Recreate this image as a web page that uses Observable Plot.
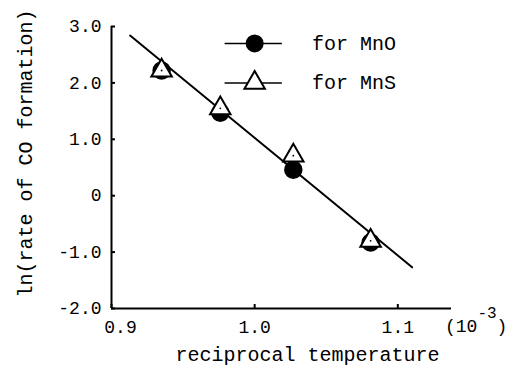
<!DOCTYPE html>
<html>
<head>
<meta charset="utf-8">
<script src="https://cdn.jsdelivr.net/npm/d3@7"></script>
<script src="https://cdn.jsdelivr.net/npm/@observablehq/plot@0.6"></script>
<style>
  html, body { margin: 0; padding: 0; background: white; }
  #chart { width: 510px; height: 372px; }
</style>
</head>
<body>
<div id="chart"></div>
<script>
// ---- data ----
const xTicks = [0.9, 1.0, 1.1];
const xTickLabels = ["0.9", "1.0", "1.1"];
const yTicks = [3, 2, 1, 0, -1, -2];
const yTickLabels = ["3.0", "2.0", "1.0", "0", "-1.0", "-2.0"];
const recipTemp = [0.935, 0.976, 1.027, 1.081];
const lnRateMnO = [2.22, 1.47, 0.46, -0.83];
const lnRateMnS = [2.22, 1.55, 0.71, -0.80];
const fitX = [0.913, 1.110];
const fitY = [2.84, -1.27];
const seriesLabels = ["for MnO", "for MnS"];
const yTitle = "ln(rate of CO formation)";
const xTitle = "reciprocal temperature";

// ---- layout ----
const W = 510, H = 372;
const mL = 111, mR = 59, mT = 26, mB = 64;
const xDomain = [0.9, 1.1375];
const yDomain = [-2, 3];
const legendRowY = [2.7, 2.0];
const legendLineX = [0.979, 1.019];
const legendMarkX = 1.0;
const legendTextX = 1.04;
const FONT = "'Liberation Mono', 'Courier New', monospace";

const mno = recipTemp.map((x, i) => ({x, y: lnRateMnO[i]}));
const mns = recipTemp.map((x, i) => ({x, y: lnRateMnS[i]}));
const fit = fitX.map((x, i) => ({x, y: fitY[i]}));
const xt = xTicks.map((v, i) => ({v, label: xTickLabels[i]}));
const yt = yTicks.map((v, i) => ({v, label: yTickLabels[i]}));
const legend = seriesLabels.map((label, i) => ({label, y: legendRowY[i]}));

const plotW = W - mL - mR, plotH = H - mT - mB;

const chart = Plot.plot({
  width: W, height: H,
  marginLeft: mL, marginRight: mR, marginTop: mT, marginBottom: mB,
  x: {domain: xDomain, axis: null},
  y: {domain: yDomain, axis: null},
  style: {fontFamily: FONT, fontSize: "18px", background: "white", color: "black"},
  marks: [
    // axes lines
    Plot.ruleX([xDomain[0]], {y1: yDomain[0], y2: yDomain[1], stroke: "black", strokeWidth: 2}),
    Plot.ruleY([yDomain[0]], {x1: xDomain[0], x2: xDomain[1], stroke: "black", strokeWidth: 2}),
    // inward ticks
    Plot.tickY(yt, {y: "v", insetRight: plotW - 4, stroke: "black", strokeWidth: 2}),
    Plot.tickX(xt, {x: "v", insetTop: plotH - 4, stroke: "black", strokeWidth: 2}),
    // tick labels
    Plot.text(yt, {x: () => xDomain[0], y: "v", text: "label", textAnchor: "end", dx: -10, fontSize: 18, fill: "black"}),
    Plot.text(xt.filter((d, i) => i === 0), {x: "v", y: () => yDomain[0], text: "label", dx: 9, dy: 19, fontSize: 18, fill: "black"}),
    Plot.text(xt.filter((d, i) => i > 0), {x: "v", y: () => yDomain[0], text: "label", dy: 19, fontSize: 18, fill: "black"}),
    // titles
    Plot.text([yTitle], {frameAnchor: "left", textAnchor: "middle", rotate: -90, dx: -86, dy: -14, fontSize: 20, fill: "black"}),
    Plot.text([xTitle], {frameAnchor: "bottom", textAnchor: "middle", dx: 26, dy: 52, fontSize: 20, fill: "black"}),
    // fit line
    Plot.line(fit, {x: "x", y: "y", stroke: "black", strokeWidth: 2}),
    // data
    Plot.dot(mno, {x: "x", y: "y", r: 8.5, fill: "black", stroke: "black"}),
    Plot.dot(mns, {x: "x", y: "y", r: 7.6, symbol: "triangle", fill: "white", stroke: "black", strokeWidth: 2}),
    Plot.dot(mns, {x: "x", y: "y", r: 0.9, fill: "black"}),
    // legend
    Plot.link(legend, {x1: () => legendLineX[0], x2: () => legendLineX[1], y1: "y", y2: "y", stroke: "black", strokeWidth: 1.5}),
    Plot.dot(legend.filter((d, i) => i === 0), {x: () => legendMarkX, y: "y", r: 9, fill: "black"}),
    Plot.dot(legend.filter((d, i) => i === 1), {x: () => legendMarkX, y: "y", r: 7.6, symbol: "triangle", fill: "white", stroke: "black", strokeWidth: 2}),
    Plot.text(legend, {x: () => legendTextX, y: "y", text: "label", textAnchor: "start", fontSize: 20, fill: "black"})
  ]
});

document.getElementById("chart").appendChild(chart);

// exponent label "(10^-3)" at the right end of the x axis
const svg = d3.select(chart);
const t = svg.append("text")
  .attr("x", 445).attr("y", 327)
  .attr("text-anchor", "start")
  .attr("dominant-baseline", "middle")
  .attr("font-family", FONT).attr("font-size", 18).attr("fill", "black");
t.append("tspan").text("(10");
t.append("tspan").attr("dy", -13).attr("font-size", 16).text("-3");
t.append("tspan").attr("dy", 13).text(")");
</script>
</body>
</html>
